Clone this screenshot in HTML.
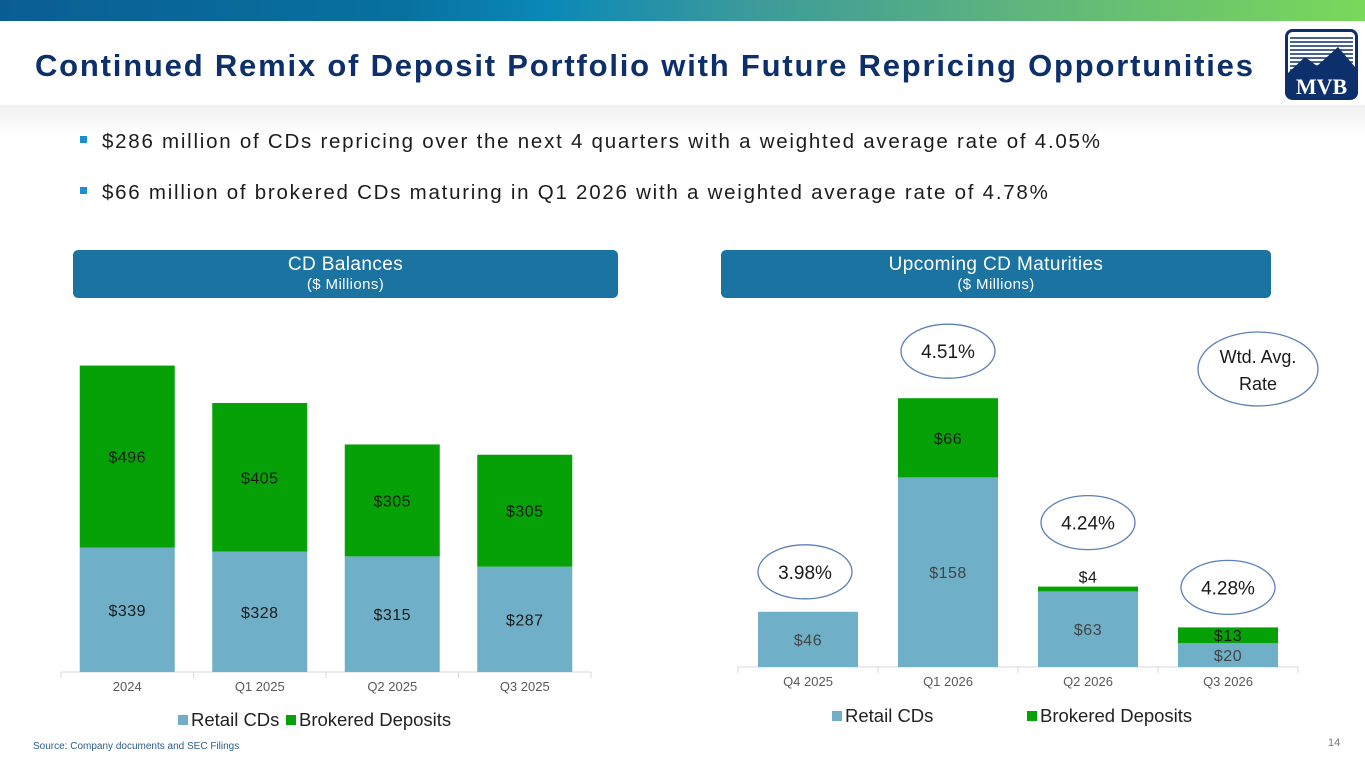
<!DOCTYPE html>
<html><head><meta charset="utf-8"><style>
body{margin:0;width:1365px;height:768px;overflow:hidden;background:#fff;font-family:"Liberation Sans",sans-serif;position:relative}
.abs{position:absolute}
#topbar{left:0;top:0;width:1365px;height:21px;background:linear-gradient(90deg,#0a5e93 0%,#08729f 30%,#0a88b8 40%,#3c9a9a 55%,#5fb57c 75%,#7ad85a 100%)}
#band{left:0;top:105px;width:1365px;height:30px;background:linear-gradient(180deg,#f0f0f0,#fff)}
#title{left:35px;top:48px;font-size:31px;font-weight:bold;color:#0d2f6b;white-space:nowrap;letter-spacing:1.8px}
.bul{left:80px;font-size:20.5px;color:#1c1c1c;white-space:nowrap;letter-spacing:1.75px}
.bul span{display:inline-block;width:7px;height:7px;background:#1d8fd0;margin-right:15px;vertical-align:middle;position:relative;top:-3px}
.banner{top:250px;height:48px;background:#1a73a0;border-radius:5px;color:#fff;text-align:center;letter-spacing:0.4px}
.banner .t{font-size:19px;margin-top:4px}
.banner .s{font-size:15px}
#src{left:33px;top:741px;font-size:10px;color:#2a5d8f}
#pg{left:1328px;top:737px;font-size:11px;color:#777}
</style></head><body>
<div class="abs" id="topbar"></div>
<div class="abs" id="band"></div>
<div class="abs" id="title">Continued Remix of Deposit Portfolio with Future Repricing Opportunities</div>
<svg class="abs" style="left:1285px;top:29px" width="73" height="71">
<rect x="1.5" y="1.5" width="70" height="68" rx="6" fill="#fff" stroke="#0d2f6b" stroke-width="3"/>
<g stroke="#0d2f6b" stroke-width="1.6"><line x1="5" y1="9" x2="68" y2="9"/><line x1="5" y1="13" x2="68" y2="13"/><line x1="5" y1="17" x2="68" y2="17"/><line x1="5" y1="21" x2="68" y2="21"/><line x1="5" y1="25" x2="68" y2="25"/><line x1="5" y1="29" x2="68" y2="29"/><line x1="5" y1="33" x2="68" y2="33"/><line x1="5" y1="37" x2="68" y2="37"/><line x1="5" y1="41" x2="68" y2="41"/></g>
<path d="M3 44 L20 28 L32 37 L53 18 L70 38 L70 68 L3 68 Z" fill="#0d2f6b"/>
<text x="36.5" y="65" font-family="Liberation Serif,serif" font-size="22" font-weight="bold" fill="#fff" text-anchor="middle">MVB</text>
</svg>
<div class="abs bul" style="top:130px"><span></span>$286 million of CDs repricing over the next 4 quarters with a weighted average rate of 4.05%</div>
<div class="abs bul" style="top:181px"><span></span>$66 million of brokered CDs maturing in Q1 2026 with a weighted average rate of 4.78%</div>
<div class="abs banner" style="left:73px;width:545px"><div class="t">CD Balances</div><div class="s">($ Millions)</div></div>
<div class="abs banner" style="left:721px;width:550px"><div class="t">Upcoming CD Maturities</div><div class="s">($ Millions)</div></div>
<svg id="chart" class="abs" style="left:0;top:0" width="1365" height="768"></svg>
<div class="abs" id="src">Source: Company documents and SEC Filings</div>
<div class="abs" id="pg">14</div>
<script>
const leftCats=["2024","Q1 2025","Q2 2025","Q3 2025"];
const leftRetail=[339,328,315,287];
const leftBrokered=[496,405,305,305];
const rightCats=["Q4 2025","Q1 2026","Q2 2026","Q3 2026"];
const rightRetail=[46,158,63,20];
const rightBrokered=[0,66,4,13];
const rightRates=["3.98%","4.51%","4.24%","4.28%"];
const NS="http://www.w3.org/2000/svg";
const svg=document.getElementById('chart');
function mk(t,a,p){const e=document.createElementNS(NS,t);for(const k in a)e.setAttribute(k,a[k]);(p||svg).appendChild(e);return e;}
const BLUE="#6fb0c8",GREEN="#06a106";
function drawChart(o){
  const y=v=>o.base-v*o.scale;
  const x=i=>o.x0+o.step*i+o.step/2;
  mk('line',{x1:o.x0,y1:o.base,x2:o.x0+o.step*o.cats.length,y2:o.base,stroke:'#d9d9d9','stroke-width':1});
  for(let i=0;i<=o.cats.length;i++){mk('line',{x1:o.x0+o.step*i,y1:o.base,x2:o.x0+o.step*i,y2:o.base+6,stroke:'#d9d9d9'});}
  o.cats.forEach((c,i)=>{
    const cx=x(i),r=o.retail[i],b=o.brok[i];
    const rb=mk('rect',{x:cx-o.bw/2,y:y(r),width:o.bw,height:r*o.scale,fill:BLUE});
    
    
    const rl=mk('text',{x:cx,y:(y(r)+o.base)/2+6,'text-anchor':'middle','font-size':16,'letter-spacing':0.5,fill:o.rlc});rl.textContent='$'+r;
    
    
    if(b>0){
      const bb=mk('rect',{x:cx-o.bw/2,y:y(r+b),width:o.bw,height:b*o.scale,fill:GREEN});
      
      
      let ly=(y(r+b)+y(r))/2+6;
      if(b*o.scale<10) ly=y(r+b)-4;
      const bl=mk('text',{x:cx,y:ly,'text-anchor':'middle','font-size':16,'letter-spacing':0.5,fill:'#1a1a1a'});bl.textContent='$'+b;
      
      
    }
    const cl=mk('text',{x:cx,y:o.base+19,'text-anchor':'middle','font-size':13,fill:'#595959'});cl.textContent=c;
    
    
  });
  const g=mk('g',{});
  
  
  mk('rect',{x:o.lx,y:o.ly-11,width:10,height:10,fill:BLUE},g);
  const t1=mk('text',{x:o.lx+13,y:o.ly,'font-size':18.5,fill:'#222'},g);t1.textContent='Retail CDs';
  mk('rect',{x:o.lx2,y:o.ly-11,width:10,height:10,fill:GREEN},g);
  const t2=mk('text',{x:o.lx2+13,y:o.ly,'font-size':18.5,fill:'#222'},g);t2.textContent='Brokered Deposits';
  return {x,y};
}
drawChart({cats:leftCats,retail:leftRetail,brok:leftBrokered,base:672,scale:0.367,x0:61,step:132.5,bw:95,rlc:'#1a1a1a',lx:178,lx2:286,ly:726});
const R=drawChart({cats:rightCats,retail:rightRetail,brok:rightBrokered,base:667,scale:1.2,x0:738,step:140,bw:100,rlc:'#444',lx:832,lx2:1027,ly:722});
rightCats.forEach((c,i)=>{
  const top=R.y(rightRetail[i]+rightBrokered[i]);
  const cx=R.x(i)-(i==0?3:0), cy=(i==1?top-47:(i==2?top-64:top-40));
  const e=mk('ellipse',{cx:cx,cy:cy,rx:47,ry:27,fill:'#fff',stroke:'#5b7fb8','stroke-width':1.3});
  
  
  const t=mk('text',{x:cx,y:cy+7,'text-anchor':'middle','font-size':19,fill:'#1a1a1a'});t.textContent=rightRates[i];
  
  
});
const we=mk('ellipse',{cx:1258,cy:369,rx:60,ry:37,fill:'#fff',stroke:'#5b7fb8','stroke-width':1.3});


const w1=mk('text',{x:1258,y:363,'text-anchor':'middle','font-size':18,fill:'#1a1a1a'});w1.textContent='Wtd. Avg.';


const w2=mk('text',{x:1258,y:390,'text-anchor':'middle','font-size':18,fill:'#1a1a1a'});w2.textContent='Rate';


</script>
</body></html>
